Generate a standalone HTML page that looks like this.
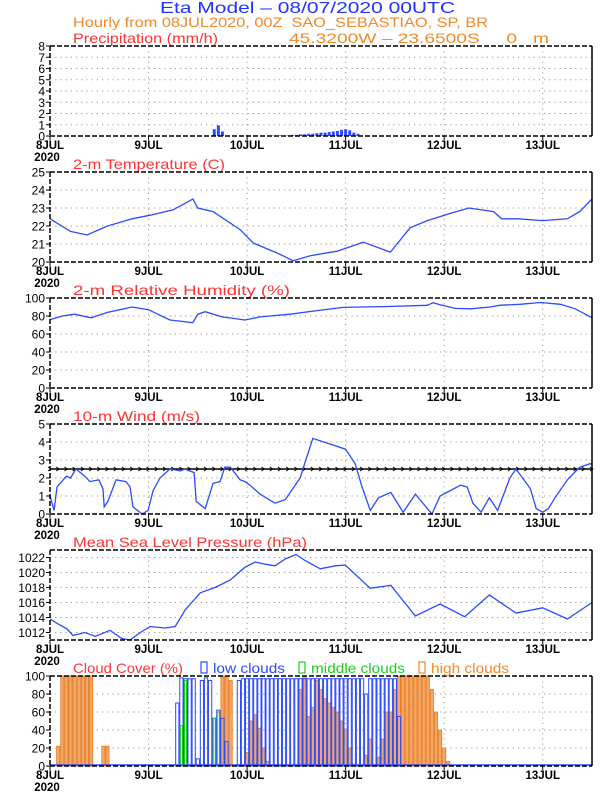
<!DOCTYPE html>
<html><head><meta charset="utf-8">
<style>
html,body{margin:0;padding:0;background:#fff;}
svg{display:block;font-family:"Liberation Sans",sans-serif;}
</style></head>
<body>
<svg id="chart" width="612" height="792" viewBox="0 0 612 792" xmlns="http://www.w3.org/2000/svg">
<text x="160" y="13" font-size="16" fill="#2033ff" textLength="295" lengthAdjust="spacingAndGlyphs">Eta Model – 08/07/2020 00UTC</text>
<text x="73" y="27" font-size="14" fill="#f08a2a" textLength="415" lengthAdjust="spacingAndGlyphs" xml:space="preserve">Hourly from 08JUL2020, 00Z  SAO_SEBASTIAO, SP, BR</text>
<text x="289" y="43" font-size="14" fill="#f08a2a" textLength="260" lengthAdjust="spacingAndGlyphs" xml:space="preserve">45.3200W – 23.6500S     0   m</text>
<g id="panels"></g>
</svg>
<script>
// ---------------- data ----------------
const dayLabels = ["8JUL","9JUL","10JUL","11JUL","12JUL","13JUL"];
const precipHours = [40,41,42,48,50,52,54,56,58,59,60,61,62,63,64,65,66,67,68,69,70,71,72,73,74,75];
const precipVals  = [0.6,0.95,0.4,0.05,0.05,0.05,0.05,0.05,0.05,0.1,0.1,0.15,0.15,0.2,0.2,0.25,0.3,0.3,0.35,0.4,0.45,0.55,0.6,0.5,0.3,0.2];
const tempHours = [0,5,9,14,20,24.4,30,34.8,36,39.7,46.3,49.5,55.3,59.2,63.4,69.9,76.3,82.9,87.7,91.9,97.5,102,108,110,114,120,126,129,132];
const tempVals  = [22.4,21.7,21.5,22.0,22.4,22.6,22.9,23.5,23.0,22.8,21.8,21.05,20.5,20.07,20.35,20.6,21.1,20.55,21.9,22.3,22.7,23.0,22.8,22.4,22.4,22.3,22.4,22.8,23.5];
const rhHours = [0,3,6,10,14,20,24,29.2,34.8,36,37.8,41.9,47.5,51.2,58.5,65,71.4,81.2,91.9,93.3,95,98.7,102.4,107.2,109.7,114.5,119.4,124.3,127.9,132];
const rhVals  = [76,80,82,78,84,90,87,75.6,72.6,82,84.8,79,75.6,79,82,86,89.6,90.4,91.9,94.8,92.6,88.5,88,90,92,93,95,93,88,78];
const windHours = [0,1,1.7,4,5,6.3,8.5,9.7,11.9,12.9,13.2,14.1,16.1,18.5,19.5,20.2,22.4,23.9,25.1,26.8,29.2,31.7,32.9,35.1,35.6,37.8,39.7,41.4,42.6,43.9,46.3,47.5,48.7,51.2,54.8,57.3,60.9,64,68,72,74.3,76,78,80,83,86,89,93,95,100,101.6,103,105,107,109,112,113.5,117,118.4,120,121.4,123,126,129,131.6,132];
const windVals  = [1.0,0.2,1.5,2.1,2.0,2.5,2.1,1.8,1.9,1.4,0.4,0.7,1.9,1.8,1.5,0.4,0.0,0.2,1.3,2.0,2.5,2.4,2.5,2.3,0.7,0.3,1.7,1.8,2.6,2.6,1.9,1.8,1.6,1.1,0.6,0.8,2.0,4.2,3.9,3.6,2.8,1.5,0.2,0.9,1.2,0.1,1.1,0.0,1.0,1.6,1.5,0.6,0.1,0.9,0.2,2.0,2.5,1.4,0.3,0.1,0.3,0.9,1.9,2.6,2.8,2.75];
const presHours = [0,2.4,4.1,5.6,8.5,11,14.6,17.5,19.5,22,24.4,28,30.5,32.9,36.6,40.2,43.9,47.5,50,52.4,54.8,57.3,59.9,62.1,65.8,69.5,71.9,78,83,89,95,101,107,113.5,120,126,132];
const presVals  = [1013.8,1013.0,1012.5,1011.6,1012.0,1011.5,1012.3,1011.2,1011.0,1012.0,1012.8,1012.6,1012.8,1015.0,1017.3,1018.0,1019.0,1020.7,1021.4,1021.1,1020.9,1021.8,1022.4,1021.6,1020.5,1020.9,1021.0,1017.9,1018.3,1014.2,1015.8,1014.1,1017.0,1014.6,1015.3,1013.8,1016.0];
const highHours = [2,3,4,5,6,7,8,9,10,13,14,42,43,44,48,49,50,51,52,53,61,62,63,64,65,66,67,68,69,70,71,72,73,74,77,78,80,81,82,83,84,85,86,87,88,89,90,91,92,93,94,95,96,97];
const highVals  = [22,100,100,100,100,100,100,100,100,22,22,100,100,95,15,50,57,42,20,5,85,100,55,65,95,85,75,70,65,60,50,40,20,2,12,30,10,30,60,60,85,100,100,100,100,100,100,100,100,85,60,40,20,5];
const lowHours = [31,32,33,34,35,36,37,38,39,40,41,42,43,46,47,48,49,50,51,52,53,54,55,56,57,58,59,60,61,62,63,64,65,66,67,68,69,70,71,72,73,74,75,76,77,78,79,80,81,82,83,84,85];
const lowVals  = [70,98,97,97,97,8,95,98,95,53,62,53,27,95,97,97,97,97,97,97,97,97,97,97,97,97,97,97,97,97,97,97,97,97,97,97,97,97,97,97,97,97,97,97,80,97,97,97,97,97,97,97,55];
const midHours = [32,33,40,41];
const midVals  = [45,95,53,60];

// ---------------- layout ----------------
const NS="http://www.w3.org/2000/svg";
const X0=50, X1=592, TMAX=132;
const root=document.getElementById('panels');
function xs(h){return X0+(h/TMAX)*(X1-X0);}
function mk(tag,attrs,parent){const e=document.createElementNS(NS,tag);for(const k in attrs)e.setAttribute(k,attrs[k]);(parent||root).appendChild(e);return e;}

function panel(name,top,ymin,ymax,ticks,title,tlen){
  const H=90, bot=top+H;
  const ys=v=>bot-(v-ymin)/(ymax-ymin)*H;
  const g=mk('g',{});
  
  
  ticks.forEach(t=>{ if(t>ymin&&t<ymax){const l=mk('line',{x1:X0,x2:X1,y1:ys(t),y2:ys(t),stroke:'#999','stroke-width':1,'stroke-dasharray':'1.2,4'},g);
    
    }});
  for(let d=1;d<=5;d++){const l=mk('line',{x1:xs(d*24),x2:xs(d*24),y1:top,y2:bot,stroke:'#999','stroke-width':1,'stroke-dasharray':'1.2,4'},g);
    
    }
  ticks.forEach(t=>{const y=ys(t);
    mk('line',{x1:X0-4,x2:X0,y1:y,y2:y,stroke:'#000'},g);
    const tx=mk('text',{x:X0-5,y:y+4.5,'text-anchor':'end','font-size':12,fill:'#000'},g);
    tx.textContent=t;
    
    });
  dayLabels.forEach((lab,i)=>{const x=xs(i*24);
    mk('line',{x1:x,x2:x,y1:bot,y2:bot+4,stroke:'#000'},g);
    const tx=mk('text',{x:x,y:bot+13,'text-anchor':'middle','font-size':11.5,'font-weight':'bold',fill:'#000'},g);
    tx.textContent=lab;
    
    });
  const yr=mk('text',{x:X0-3,y:bot+25,'text-anchor':'middle','font-size':11.5,'font-weight':'bold',fill:'#000'},g);
  yr.textContent='2020';
  
  
  const tt=mk('text',{x:73,y:top-3,'font-size':14,fill:'#ff3333',textLength:tlen,lengthAdjust:'spacingAndGlyphs'},g);
  tt.textContent=title;
  
  
  const content=mk('g',{},g);
  mk('line',{x1:X0,x2:X1,y1:top,y2:top,stroke:'#000','stroke-width':1.5,'stroke-dasharray':'5,2'},g);
  mk('line',{x1:X1,x2:X1,y1:top,y2:bot,stroke:'#000','stroke-width':1.5},g);
  mk('line',{x1:X0,x2:X0,y1:top,y2:bot,stroke:'#000','stroke-width':1.5,'stroke-dasharray':'5,2'},g);
  mk('line',{x1:X0,x2:X1,y1:bot,y2:bot,stroke:'#000','stroke-width':1.5,'stroke-dasharray':'5,2'},g);
  return {g:content,ys,bot};
}
function line(p,hours,vals,name){
  const d=hours.map((h,i)=>(i?'L':'M')+xs(h).toFixed(1)+','+p.ys(vals[i]).toFixed(1)).join('');
  const e=mk('path',{d:d,fill:'none',stroke:'#2b4bff','stroke-width':1.3},p.g);
  
  
}

const P1=panel('precipitation',46,0,8,[0,1,2,3,4,5,6,7,8],'Precipitation (mm/h)',145);
precipHours.forEach((h,i)=>{const y=P1.ys(precipVals[i]);
  const r=mk('rect',{x:xs(h)-1.5,y:y,width:3,height:P1.bot-y,fill:'#2b4bff'},P1.g);
  
  });

const P2=panel('temperature',172,20,25,[20,21,22,23,24,25],'2-m Temperature (C)',152);
line(P2,tempHours,tempVals,'temperature-line');

const P3=panel('humidity',298,0,100,[0,20,40,60,80,100],'2-m Relative Humidity (%)',217);
line(P3,rhHours,rhVals,'humidity-line');

const P4=panel('wind',424,0,5,[0,1,2,3,4,5],'10-m Wind (m/s)',127);
const wl=mk('line',{x1:X0,x2:X1,y1:P4.ys(2.5),y2:P4.ys(2.5),stroke:'#000','stroke-width':1.6},P4.g);


for(let h=0;h<=TMAX;h+=2){const x=xs(h),y=P4.ys(2.5);
  const a=mk('path',{d:`M${x-2},${y-2}L${x+1},${y}L${x-2},${y+2}`,fill:'none',stroke:'#000','stroke-width':0.9},P4.g);
  
  }
line(P4,windHours,windVals,'wind-speed-line');

const P5=panel('pressure',550,1011,1023,[1012,1014,1016,1018,1020,1022],'Mean Sea Level Pressure (hPa)',234);
line(P5,presHours,presVals,'pressure-line');

const P6=panel('cloud',676,0,100,[0,20,40,60,80,100],'Cloud Cover (%)',110);
highHours.forEach((h,i)=>{const y=P6.ys(highVals[i]);
  const r=mk('rect',{x:xs(h)-1.6,y:y,width:3.2,height:P6.bot-y,fill:'#f4a868',stroke:'#e8781e','stroke-width':0.8},P6.g);
  
  });
lowHours.forEach((h,i)=>{const y=P6.ys(lowVals[i]);
  const r=mk('rect',{x:xs(h)-1.6,y:y,width:3.2,height:P6.bot-y,fill:'none',stroke:'#2b4bff','stroke-width':1},P6.g);
  
  });
midHours.forEach((h,i)=>{const y=P6.ys(midVals[i]);
  const r=mk('rect',{x:xs(h)-1,y:y,width:2,height:P6.bot-y,fill:'none',stroke:'#22cc22','stroke-width':1},P6.g);
  
  });
const bl=mk('line',{x1:X0,x2:X1,y1:P6.bot-1,y2:P6.bot-1,stroke:'#2b4bff','stroke-width':1.5},P6.g);


[['low clouds','#2b4bff',201,72],['middle clouds','#22cc22',299,94],['high clouds','#f08a2a',419,78]].forEach(([lab,c,x,w])=>{
  const r=mk('rect',{x:x,y:662,width:6,height:11,fill:'none',stroke:c,'stroke-width':1.2});
  
  
  const t=mk('text',{x:x+12,y:673,'font-size':14,fill:c,textLength:w,lengthAdjust:'spacingAndGlyphs'});
  t.textContent=lab;
  
  });
</script>
</body></html>
